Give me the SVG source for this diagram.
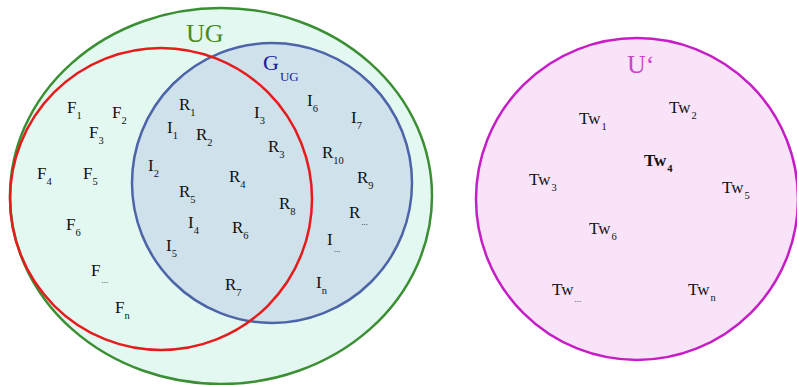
<svg xmlns="http://www.w3.org/2000/svg" width="797" height="385" viewBox="0 0 797 385">
<style>
text{font-family:"Liberation Serif","DejaVu Serif",serif;font-size:17px;fill:#111}
.s{font-size:10.5px}
.d{font-size:9px}
.set{stroke-width:2.5}
</style>
<rect width="797" height="385" fill="#ffffff"/>
<g id="UG">
<ellipse class="set" cx="221" cy="196" rx="211" ry="188" fill="#e4f8f2" stroke="#3b8f33"/>
<text x="186" y="42" style="font-size:26px;fill:#4a8a1c">UG</text>
</g>
<g id="G_UG">
<ellipse class="set" cx="272" cy="183" rx="140" ry="140" fill="#cfe1ea" stroke="#4d65a8"/>
<text x="263" y="70" style="font-size:22px;fill:#1a1aa0">G<tspan dy="11" style="font-size:13px" dx="1">UG</tspan></text>
</g>
<g id="F_set">
<circle class="set" cx="161" cy="199" r="151" fill="none" stroke="#e61c1c"/>
</g>
<g id="Uprime">
<circle class="set" cx="637" cy="199" r="161" fill="#f9e3f8" stroke="#c61ec6"/>
<text x="627" y="73" style="font-size:26px;fill:#cc44cc">U‘</text>
</g>
<g id="elements">
<text x="67" y="113">F<tspan class="s" dy="6">1</tspan></text>
<text x="112" y="118">F<tspan class="s" dy="6">2</tspan></text>
<text x="89" y="138">F<tspan class="s" dy="6">3</tspan></text>
<text x="37" y="179">F<tspan class="s" dy="6">4</tspan></text>
<text x="83" y="179">F<tspan class="s" dy="6">5</tspan></text>
<text x="66" y="230">F<tspan class="s" dy="6">6</tspan></text>
<text x="91" y="276">F<tspan class="d" dy="7" dx="1">...</tspan></text>
<text x="115" y="313">F<tspan class="s" dy="6">n</tspan></text>
<text x="179" y="110">R<tspan class="s" dy="6">1</tspan></text>
<text x="167" y="133">I<tspan class="s" dy="6">1</tspan></text>
<text x="196" y="140">R<tspan class="s" dy="6">2</tspan></text>
<text x="254" y="118">I<tspan class="s" dy="6">3</tspan></text>
<text x="268" y="152">R<tspan class="s" dy="6">3</tspan></text>
<text x="148" y="171">I<tspan class="s" dy="6">2</tspan></text>
<text x="229" y="182">R<tspan class="s" dy="6">4</tspan></text>
<text x="179" y="197">R<tspan class="s" dy="6">5</tspan></text>
<text x="279" y="209">R<tspan class="s" dy="6">8</tspan></text>
<text x="188" y="228">I<tspan class="s" dy="6">4</tspan></text>
<text x="232" y="233">R<tspan class="s" dy="6">6</tspan></text>
<text x="166" y="251">I<tspan class="s" dy="6">5</tspan></text>
<text x="225" y="290">R<tspan class="s" dy="6">7</tspan></text>
<text x="307" y="106">I<tspan class="s" dy="6">6</tspan></text>
<text x="351" y="123">I<tspan class="s" dy="6">7</tspan></text>
<text x="322" y="158">R<tspan class="s" dy="6">10</tspan></text>
<text x="357" y="183">R<tspan class="s" dy="6">9</tspan></text>
<text x="349" y="218">R<tspan class="d" dy="7" dx="1">...</tspan></text>
<text x="327" y="245">I<tspan class="d" dy="7" dx="1">...</tspan></text>
<text x="316" y="288">I<tspan class="s" dy="6">n</tspan></text>
<text x="579" y="124">Tw<tspan class="s" dy="6" dx="1">1</tspan></text>
<text x="669" y="113">Tw<tspan class="s" dy="6" dx="1">2</tspan></text>
<text x="644" y="166" style="font-weight:bold">Tw<tspan class="s" dy="6" dx="1">4</tspan></text>
<text x="529" y="185">Tw<tspan class="s" dy="6" dx="1">3</tspan></text>
<text x="722" y="193">Tw<tspan class="s" dy="6" dx="1">5</tspan></text>
<text x="589" y="234">Tw<tspan class="s" dy="6" dx="1">6</tspan></text>
<text x="552" y="295">Tw<tspan class="d" dy="7" dx="1">...</tspan></text>
<text x="688" y="295">Tw<tspan class="s" dy="6" dx="1">n</tspan></text>
</g>
</svg>
